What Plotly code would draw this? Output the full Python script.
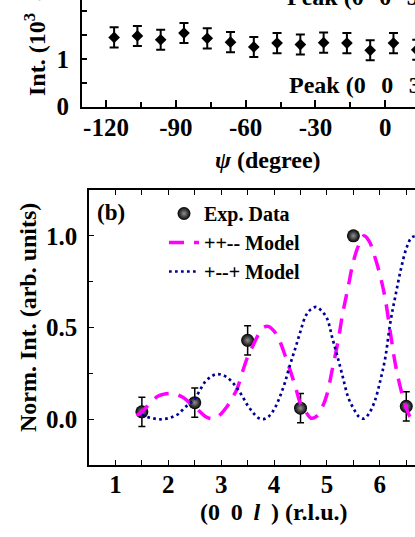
import plotly.graph_objects as go

W, H = 415, 537

# ---- panel (a): intensity vs azimuth psi ----
psi = [-116.5, -106.5, -96.5, -86.5, -76.5, -66.5, -56.5,
       -46.5, -36.5, -26.5, -16.5, -6.5, 3.5, 13.5]
psi_int = [1.45, 1.48, 1.40, 1.54, 1.43, 1.35, 1.25,
           1.33, 1.30, 1.34, 1.33, 1.18, 1.33, 1.19]
psi_err = [0.21, 0.21, 0.21, 0.21, 0.21, 0.21, 0.21,
           0.21, 0.21, 0.21, 0.21, 0.21, 0.21, 0.21]
psi_ticks = [-120, -90, -60, -30, 0]
psi_ticktext = ["-120", "-90", "-60", "-30", "0"]

# ---- panel (b): normalised intensity along (0 0 l) ----
l_exp = [1.5, 2.5, 3.5, 4.5, 5.5, 6.5]
int_exp = [0.04, 0.09, 0.43, 0.06, 1.00, 0.07]
err_exp = [0.08, 0.08, 0.08, 0.08, 0.0, 0.08]

l_ppmm = [1.4, 1.5, 1.6, 1.7, 1.8, 1.9, 2.0, 2.1, 2.2, 2.3, 2.4, 2.5, 2.6, 2.7,
          2.8, 2.9, 3.0, 3.1, 3.2, 3.3, 3.4, 3.5, 3.6, 3.7, 3.8, 3.9, 4.0, 4.1,
          4.2, 4.3, 4.4, 4.5, 4.6, 4.7, 4.8, 4.9, 5.0, 5.1, 5.2, 5.3, 5.4, 5.5,
          5.6, 5.7, 5.8, 5.9, 6.0, 6.1, 6.2, 6.3, 6.4, 6.5, 6.6, 6.7]
int_ppmm = [0.02, 0.04, 0.07, 0.10, 0.125, 0.135, 0.14, 0.138, 0.13, 0.115,
            0.09, 0.07, 0.04, 0.015, 0.003, 0.005, 0.03, 0.065, 0.11, 0.165,
            0.255, 0.34, 0.40, 0.46, 0.50, 0.505, 0.48, 0.43, 0.355, 0.27,
            0.18, 0.085, 0.04, 0.005, 0.015, 0.058, 0.135, 0.27, 0.41, 0.58,
            0.72, 0.86, 0.95, 1.0, 0.97, 0.89, 0.79, 0.66, 0.47, 0.29,
            0.16, 0.06, 0.005, 0.02]

l_pmmp = [1.5, 1.6, 1.7, 1.8, 1.9, 2.0, 2.1, 2.2, 2.3, 2.4, 2.5, 2.6, 2.7, 2.8,
          2.9, 3.0, 3.1, 3.2, 3.3, 3.4, 3.5, 3.6, 3.7, 3.8, 3.9, 4.0, 4.1, 4.2,
          4.3, 4.4, 4.5, 4.6, 4.7, 4.8, 4.9, 5.0, 5.1, 5.2, 5.3, 5.4, 5.5, 5.6,
          5.7, 5.8, 5.9, 6.0, 6.1, 6.2, 6.3, 6.4, 6.5, 6.6, 6.7]
int_pmmp = [0.025, 0.012, 0.005, 0.0, 0.0, 0.005, 0.015, 0.03, 0.06, 0.085,
            0.11, 0.16, 0.205, 0.23, 0.245, 0.243, 0.23, 0.205, 0.17, 0.125,
            0.075, 0.037, 0.007, 0.0, 0.015, 0.053, 0.115, 0.195, 0.295, 0.385,
            0.48, 0.565, 0.60, 0.612, 0.59, 0.55, 0.445, 0.34, 0.23, 0.12,
            0.06, 0.015, 0.003, 0.033, 0.095, 0.20, 0.33, 0.53, 0.68, 0.82,
            0.93, 0.99, 1.0]

FONT = "Liberation Serif"


def px(x):
    return x / W


def py(y):
    return 1 - y / H


fig = go.Figure()

# panel (a)
fig.add_trace(go.Scatter(
    x=psi, y=psi_int, mode="markers", xaxis="x", yaxis="y", showlegend=False,
    marker=dict(symbol="diamond", size=9, color="black"),
    error_y=dict(type="data", array=psi_err, color="black", thickness=2, width=4.5)))

# panel (b)
fig.add_trace(go.Scatter(
    x=l_exp, y=int_exp, mode="markers", xaxis="x2", yaxis="y2",
    name="<b>Exp. Data</b>", legendrank=1,
    marker=dict(symbol="circle", size=13, color="black",
                gradient=dict(type="radial", color="#909090")),
    error_y=dict(type="data", array=err_exp, color="black", thickness=1.5, width=3.5)))
fig.add_trace(go.Scatter(
    x=l_ppmm, y=int_ppmm, mode="lines", xaxis="x2", yaxis="y2",
    name="<b>++-- Model</b>", legendrank=2,
    line=dict(color="#ff00ff", width=3.5, dash="15px,10px", shape="spline")))
fig.add_trace(go.Scatter(
    x=l_pmmp, y=int_pmmp, mode="lines", xaxis="x2", yaxis="y2",
    name="<b>+--+ Model</b>", legendrank=3,
    line=dict(color="#000099", width=2.7, dash="2.7px,3.3px", shape="spline")))

tickfont = dict(family=FONT, size=25, color="black", weight="bold")
axis_common = dict(showline=True, linecolor="black", ticks="inside",
                   tickcolor="black", showgrid=False, zeroline=False,
                   automargin=False, tickfont=tickfont)

fig.update_layout(
    template="none",
    width=W, height=H,
    margin=dict(l=0, r=0, t=0, b=0, autoexpand=False),
    paper_bgcolor="white", plot_bgcolor="white",
    font=dict(family=FONT, color="black"),
    xaxis=dict(domain=[px(82), 1], anchor="y", range=[-130.3, 12.75],
               tickmode="array", tickvals=psi_ticks, ticktext=psi_ticktext,
               linewidth=1.8, ticklen=7, tickwidth=1.5, ticklabelstandoff=-3,
               minor=dict(dtick=15, tick0=-120, ticklen=5, ticks="inside",
                          tickcolor="black", tickwidth=1.5),
               **axis_common),
    yaxis=dict(domain=[py(106.7), 1], anchor="x", range=[0, 2.232],
               tickvals=[0, 1, 2], linewidth=1.8, ticklen=5, tickwidth=1.5,
               ticklabelstandoff=6,
               minor=dict(dtick=0.5, tick0=0, ticklen=5, ticks="inside",
                          tickcolor="black", tickwidth=1.5),
               **axis_common),
    xaxis2=dict(domain=[px(89), 1], anchor="y2", range=[0.5, 6.665],
                dtick=1, tick0=1, mirror="ticks", linewidth=1.5, ticklen=5,
                tickwidth=1.2, ticklabelstandoff=-4,
                minor=dict(dtick=0.5, tick0=0.5, ticklen=5, ticks="inside",
                           tickcolor="black", tickwidth=1.2),
                **axis_common),
    yaxis2=dict(domain=[py(465), py(190)], anchor="x2", range=[-0.25, 1.25],
                tickvals=[0, 0.5, 1.0], tickformat=".1f", linewidth=1.5,
                ticklen=5, tickwidth=1.2, ticklabelstandoff=5,
                minor=dict(dtick=0.25, tick0=0, ticklen=4, ticks="inside",
                           tickcolor="black", tickwidth=1.2),
                **axis_common),
    legend=dict(x=px(164), y=py(194), xanchor="left", yanchor="top",
                bgcolor="rgba(0,0,0,0)", borderwidth=0,
                font=dict(family=FONT, size=20, color="black")),
)

ann_font = dict(family=FONT, size=24, color="black")
annotations = [
    dict(text="<b><i>ψ</i> (degree)</b>", x=px(268), y=py(160)),
    dict(text="<b>(0\u00a0\u20090\u00a0\u2009<i>l</i>\u00a0\u2009) (r.l.u.)</b>",
         x=px(274), y=py(512)),
    dict(text="<b>Norm. Int. (arb. units)</b>", x=px(28), y=py(318), textangle=-90),
    dict(text="<b>Int. (10<sup>3</sup>\u00a0\u00a0counts)</b>", x=px(35), y=py(98),
         textangle=-90, yanchor="bottom"),
    dict(text="<b>Peak (0\u00a0\u2009\u20090\u00a0\u2009\u20093)</b>", x=px(287), y=py(85),
         xanchor="left"),
    dict(text="<b>Peak (0\u00a0\u2009\u20090\u00a0\u2009\u20093.5)</b>", x=px(285), y=py(-3),
         xanchor="left"),
    dict(text="<b>(b)</b>", x=px(111), y=py(213), font=dict(family=FONT, size=23,
                                                           color="black")),
]
for a in annotations:
    a.setdefault("font", ann_font)
    a.setdefault("xanchor", "center")
    a.setdefault("yanchor", "middle")
    fig.add_annotation(xref="paper", yref="paper", showarrow=False, **a)

# the page body has a default 8px margin; drop it so the figure fills the window
fig.write_html("out.html",
               config={"displayModeBar": False},
               post_script="document.body.style.margin='0';"
                           "document.body.style.overflow='hidden';")
